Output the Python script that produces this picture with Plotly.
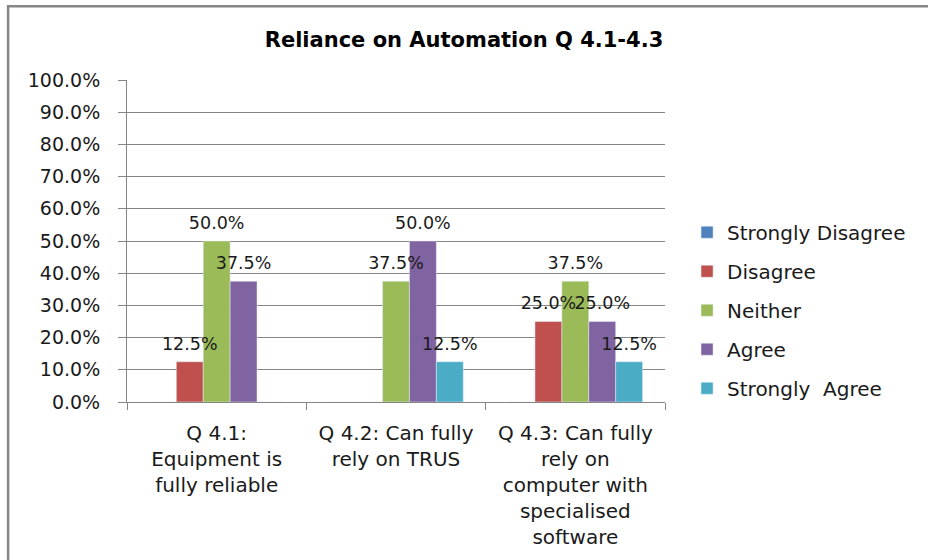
import plotly.graph_objects as go

categories = [
    "Q 4.1:<br>Equipment is<br>fully reliable",
    "Q 4.2: Can fully<br>rely on TRUS",
    "Q 4.3: Can fully<br>rely on<br>computer with<br>specialised<br>software",
]
series_names = ["Strongly Disagree", "Disagree", "Neither", "Agree", "Strongly  Agree"]
strongly_disagree = [0.0, 0.0, 0.0]
disagree = [0.125, 0.0, 0.25]
neither = [0.5, 0.375, 0.375]
agree = [0.375, 0.5, 0.25]
strongly_agree = [0.0, 0.125, 0.125]

series_values = [strongly_disagree, disagree, neither, agree, strongly_agree]
colors = ["#4F81BD", "#C0504D", "#9BBB59", "#8064A2", "#4BACC6"]

fig = go.Figure()
for i, (name, vals, col) in enumerate(zip(series_names, series_values, colors)):
    fig.add_trace(go.Bar(
        x=categories, y=vals, name=name, marker_color=col,
        offsetgroup=str(i), legendgroup=f"g{i}", hoverinfo="skip",
    ))

# data labels drawn on top of all bars (like Excel); the invisible marker
# lifts the text a little above the bar end
for i, vals in enumerate(series_values):
    labels = [f"{v * 100:.1f}%" if v else "" for v in vals]
    fig.add_trace(go.Scatter(
        x=categories, y=vals, mode="markers+text", text=labels,
        marker=dict(size=11, color="rgba(0,0,0,0)"),
        textposition="top center", cliponaxis=False,
        textfont=dict(family="DejaVu Sans", size=17.5, color="#1a1a1a"),
        offsetgroup=str(i), showlegend=False, hoverinfo="skip",
    ))

grey = "#868686"
fig.update_layout(
    width=928, height=560,
    paper_bgcolor="white", plot_bgcolor="white",
    margin=dict(l=127, r=263, t=80, b=158),
    barmode="group", bargap=0.25, bargroupgap=0,
    scattermode="group", scattergap=0.25,
    title=dict(text="<b>Reliance on Automation Q 4.1-4.3</b>", x=0.5, xref="container",
               y=0.929, yanchor="middle",
               font=dict(family="DejaVu Sans", size=21, color="#000000")),
    showlegend=True,
    legend=dict(x=1.041, y=0.285, yanchor="middle", xanchor="left",
                font=dict(family="DejaVu Sans", size=20, color="#1a1a1a"),
                tracegroupgap=10, itemclick=False),
    shapes=[dict(type="rect", xref="paper", yref="paper",
                 x0=-0.221, x1=1.7, y0=-1.0, y1=1.229,
                 line=dict(color=grey, width=2.5), layer="below")],
)
fig.update_yaxes(
    range=[0, 1], dtick=0.1, tickformat=".1%",
    showgrid=True, gridcolor=grey, gridwidth=1,
    showline=True, linecolor=grey, linewidth=1,
    ticks="outside", ticklen=8, tickcolor=grey, ticklabelstandoff=14,
    tickfont=dict(family="DejaVu Sans", size=19, color="#1a1a1a"),
    zeroline=False,
)
fig.update_xaxes(
    showline=True, linecolor=grey, linewidth=1,
    ticks="outside", tickson="boundaries", ticklen=7, tickcolor=grey,
    ticklabelstandoff=13,
    tickfont=dict(family="DejaVu Sans", size=20, color="#1a1a1a"),
)

fig.write_html("out.html", config={"displayModeBar": False},
               post_script="document.body.style.margin='0';")
